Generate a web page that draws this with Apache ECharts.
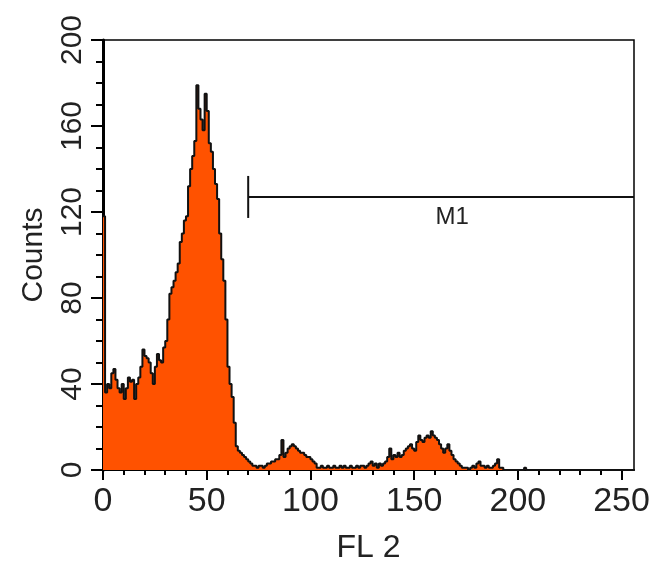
<!DOCTYPE html>
<html>
<head>
<meta charset="utf-8">
<script src="https://cdn.jsdelivr.net/npm/echarts@6/dist/echarts.min.js"></script>
<style>
  html, body { margin: 0; background: #fff; }
  #chart { width: 657px; height: 564px; }
</style>
</head>
<body>
<div id="chart"></div>
<script>
// counts per FL2 channel (0..255)
const counts = [
  118, 36, 40, 38, 45, 47, 42, 38, 36, 40,
  33, 38, 43, 41, 42, 33, 40, 43, 48, 56,
  53, 52, 50, 45, 40, 48, 54, 51, 50, 57,
  60, 70, 82, 85, 88, 92, 96, 106, 110, 116,
  118, 132, 140, 146, 153, 179, 168, 163, 158, 175,
  167, 152, 148, 140, 133, 126, 110, 98, 88, 70,
  48, 40, 34, 22, 11, 9, 8, 7, 6, 5,
  4, 3, 2, 2, 1, 2, 2, 1, 2, 3,
  3, 4, 4, 5, 5, 7, 14, 6, 8, 10,
  11, 12, 11, 10, 9, 8, 8, 7, 6, 6,
  5, 4, 3, 1, 1, 2, 1, 1, 2, 1,
  1, 2, 1, 1, 2, 1, 2, 1, 1, 2,
  1, 1, 2, 1, 2, 2, 1, 2, 3, 4,
  2, 3, 1, 3, 2, 3, 4, 6, 10, 5,
  7, 6, 8, 6, 7, 9, 10, 11, 12, 10,
  9, 13, 16, 14, 13, 15, 16, 15, 18, 16,
  15, 14, 12, 10, 8, 10, 12, 9, 7, 5,
  4, 3, 2, 1, 1, 1, 0, 1, 2, 1,
  3, 4, 2, 2, 1, 2, 1, 1, 2, 3,
  5, 1, 1, 0, 0, 0, 0, 0, 0, 0,
  0, 0, 0, 1, 0, 0, 0, 0, 0, 0,
  0, 0, 0, 0, 0, 0, 0, 0, 0, 0,
  0, 0, 0, 0, 0, 0, 0, 0, 0, 0,
  0, 0, 0, 0, 0, 0, 0, 0, 0, 0,
  0, 0, 0, 0, 0, 0, 0, 0, 0, 0,
  0, 0, 0, 0, 0, 0
];
const channelMax = 256;
const xMajorTicks = [0, 50, 100, 150, 200, 250];
const xMinorTicks = [0, 10, 20, 30, 40, 50, 60, 70, 80, 90, 100, 110, 120, 130,
  140, 150, 160, 170, 180, 190, 200, 210, 220, 230, 240, 250];
const yMax = 200;
const yStep = 40;
const markerRange = [70, 256];
const markerLevel = 127;
const markerName = 'M1';

const FONT = "'Liberation Sans', Arial, sans-serif";
const chart = echarts.init(document.getElementById('chart'));

// step line: each channel holds its count until the next one
const histData = counts.map((v, i) => [i, v]);
histData.push([channelMax, counts[counts.length - 1]]);

const tickStyle = { color: '#000', width: 2 };

const option = {
  animation: false,
  backgroundColor: '#fff',
  grid: {
    left: 103, right: 23, top: 40, bottom: 94,
    outerBoundsMode: 'none', containLabel: false,
    show: true, borderColor: '#000', borderWidth: 1.5
  },
  xAxis: [{
    type: 'value', min: 0, max: channelMax,
    name: 'FL 2', nameLocation: 'middle', nameGap: 62,
    nameTextStyle: { fontFamily: FONT, fontSize: 32, color: '#222' },
    axisLine: { show: true, lineStyle: { color: '#000', width: 2 } },
    axisTick: { show: true, inside: false, customValues: xMajorTicks, length: 10, lineStyle: tickStyle },
    axisLabel: { customValues: xMajorTicks, margin: 15, fontFamily: FONT, fontSize: 34, color: '#222' },
    splitLine: { show: false }
  }, {
    type: 'value', min: 0, max: channelMax, position: 'bottom', offset: 0,
    axisLine: { show: false },
    axisTick: { show: true, inside: false, customValues: xMinorTicks, length: 5, lineStyle: tickStyle },
    axisLabel: { show: false },
    splitLine: { show: false }
  }],
  yAxis: {
    type: 'value', min: 0, max: yMax, interval: yStep,
    name: 'Counts', nameLocation: 'middle', nameGap: 54, nameRotate: 90,
    nameTextStyle: { fontFamily: FONT, fontSize: 30, color: '#222' },
    axisLine: { show: true, lineStyle: { color: '#000', width: 3 } },
    axisTick: { show: true, inside: false, length: 12, lineStyle: tickStyle },
    minorTick: { show: true, splitNumber: 4, length: 7, lineStyle: tickStyle },
    axisLabel: { rotate: 90, margin: 15, fontFamily: FONT, fontSize: 30, color: '#222' },
    splitLine: { show: false }
  },
  series: [{
    type: 'line',
    step: 'end',
    data: histData,
    showSymbol: false,
    lineStyle: { color: '#111', width: 2 },
    areaStyle: { color: '#ff5200', opacity: 1 },
    z: 2
  }, {
    type: 'custom',
    data: [[markerRange[0], markerLevel]],
    clip: false,
    z: 3,
    renderItem: function (params, api) {
      const p0 = api.coord([markerRange[0], markerLevel]);
      const p1 = api.coord([markerRange[1], markerLevel]);
      const stroke = { stroke: '#111', lineWidth: 2 };
      return {
        type: 'group',
        children: [
          { type: 'line', shape: { x1: p0[0], y1: p0[1], x2: p1[0], y2: p1[1] }, style: stroke },
          { type: 'line', shape: { x1: p0[0], y1: p0[1] - 21, x2: p0[0], y2: p0[1] + 21 }, style: stroke },
          {
            type: 'text',
            style: {
              text: markerName, x: (p0[0] + p1[0]) / 2 + 11, y: p0[1] + 20,
              align: 'center', verticalAlign: 'middle',
              font: '24px ' + FONT, fill: '#222'
            }
          }
        ]
      };
    }
  }]
};

chart.setOption(option);
</script>
</body>
</html>
